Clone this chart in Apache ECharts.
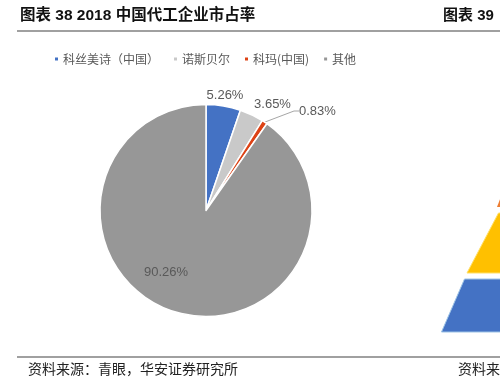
<!DOCTYPE html>
<html><head><meta charset="utf-8">
<script src="https://cdn.jsdelivr.net/npm/echarts@6/dist/echarts.min.js"></script>
<style>html,body{margin:0;padding:0;background:#fff}#c{width:500px;height:378px}</style>
</head><body><div id="c"></div>
<script>
const categories = ['科丝美诗（中国）', '诺斯贝尔', '科玛(中国)', '其他'];
const shares = [5.26, 3.65, 0.83, 90.26];
const sliceColors = ['#4472c4', '#c9c9c9', '#dd4215', '#979797'];
const titleText = '图表 38 2018 中国代工企业市占率';
const nextTitleText = '图表 39';
const sourceText = '资料来源：青眼，华安证券研究所';
const nextSourceText = '资料来';

const CJK = "'Liberation Sans','Noto Sans CJK SC'";
const labelPos = [[225, 95, 'center'], [272.5, 104, 'center'], [299, 111, 'left'], [166, 272, 'center']];

const chart = echarts.init(document.getElementById('c'), null, {renderer: 'canvas'});
chart.setOption({
  backgroundColor: '#fff',
  animation: false,
  color: sliceColors,
  legend: {
    left: 48, top: 48,
    itemWidth: 5, itemHeight: 5, itemGap: 13,
    icon: 'rect',
    textStyle: {fontSize: 12, color: '#595959', fontFamily: "'Noto Sans CJK SC'", padding: [0, 0, 0, -1]},
    data: categories
  },
  graphic: [
    {type: 'text', left: 20, top: 8, style: {text: titleText, font: 'bold 15.5px ' + CJK, fill: '#111'}},
    {type: 'text', left: 443, top: 8, style: {text: nextTitleText, font: 'bold 15px ' + CJK, fill: '#111'}},
    {type: 'line', shape: {x1: 17, y1: 31, x2: 500, y2: 31}, style: {stroke: '#a0a0a0', lineWidth: 2}},
    {type: 'line', shape: {x1: 17, y1: 357, x2: 500, y2: 357}, style: {stroke: '#808080', lineWidth: 1.5}},
    {type: 'text', left: 28, top: 363, style: {text: sourceText, font: '14px ' + CJK, fill: '#222'}},
    {type: 'text', left: 458, top: 363, style: {text: nextSourceText, font: '14px ' + CJK, fill: '#222'}},
    {type: 'polygon', shape: {points: [[497, 207], [500.5, 198], [505, 207]]}, style: {fill: '#ed7d31'}},
    {type: 'polygon', shape: {points: [[498.5, 213], [467, 273], [510, 273], [510, 213]]}, style: {fill: '#ffc000', stroke: '#ffe066', lineWidth: 1}},
    {type: 'polygon', shape: {points: [[464.5, 279], [441.5, 332], [510, 332], [510, 279]]}, style: {fill: '#4472c4', stroke: '#9dc3e6', lineWidth: 1}}
  ],
  series: [{
    type: 'pie',
    center: [206, 210.5],
    radius: 106,
    startAngle: 90,
    clockwise: true,
    avoidLabelOverlap: false,
    itemStyle: {borderColor: '#fff', borderWidth: 1.5},
    label: {
      show: true,
      formatter: p => shares[p.dataIndex].toFixed(2) + '%',
      fontSize: 13,
      color: '#595959',
      fontFamily: "'Liberation Sans'"
    },
    labelLine: {show: false},
    labelLayout: function (params) {
      const p = labelPos[params.dataIndex];
      return {x: p[0], y: p[1], align: p[2], verticalAlign: 'middle'};
    },
    data: categories.map((name, i) => {
      const d = {name: name, value: shares[i]};
      if (i === 2) {
        d.labelLine = {show: true, length: 10, length2: 5, lineStyle: {color: '#a6a6a6', width: 1}};
      }
      if (i === 3) {
        d.label = {position: 'inside'};
      }
      return d;
    })
  }]
});
</script>
</body></html>
